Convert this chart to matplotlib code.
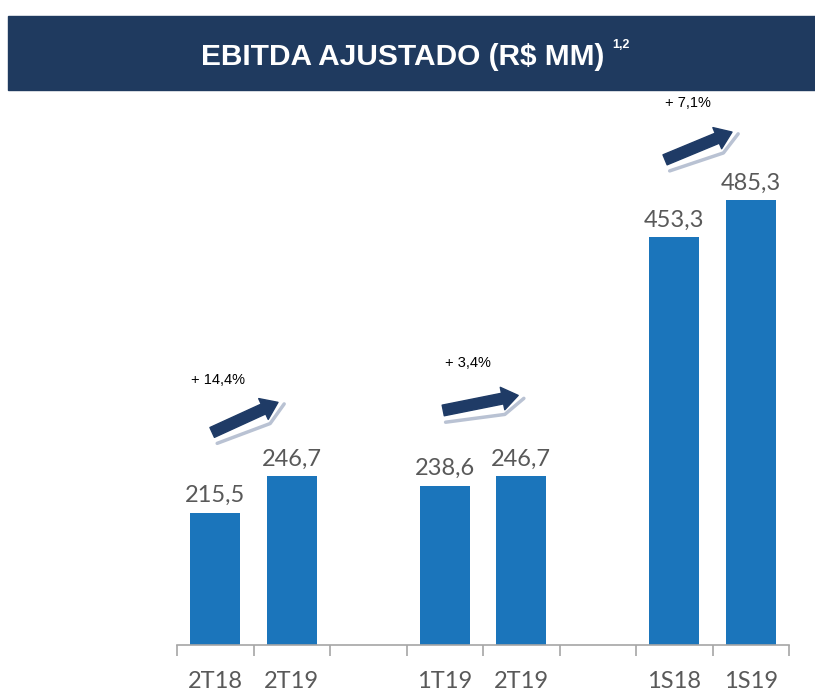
import matplotlib
matplotlib.use("Agg")
import matplotlib.pyplot as plt
from matplotlib.patches import Rectangle
import numpy as np

# ---------------------------------------------------------------------------
# Data
# ---------------------------------------------------------------------------
CATEGORIES = ["2T18", "2T19", "", "1T19", "2T19", "", "1S18", "1S19"]
VALUES     = [215.5, 246.7, None, 238.6, 246.7, None, 453.3, 485.3]
VALUE_LBLS = ["215,5", "246,7", "", "238,6", "246,7", "", "453,3", "485,3"]

# comparison pairs (index of first bar, index of second bar) and growth labels
PAIRS  = [(0, 1), (3, 4), (6, 7)]
GROWTH = ["+ 14,4%", "+ 3,4%", "+ 7,1%"]

TITLE = "EBITDA AJUSTADO (R$ MM)"
SUPER = "1,2"

# ---------------------------------------------------------------------------
# Style / layout
# ---------------------------------------------------------------------------
BAR_COLOR    = "#1B75BB"
BANNER_COLOR = "#1F3A5F"
ARROW_COLOR  = "#1F3B66"
SHADOW_COLOR = "#B9C2D3"
LABEL_COLOR  = "#595959"
AXIS_COLOR   = "#A6A6A6"

# arrow placement relative to each pair:
# (tail dx, tail dy, tip dx, tip dy, label dx, label dy) — dx in slots, dy above taller bar
ARROW_LAYOUT = [
    (-0.04, 38, -0.18, 64, 0.04, 83),
    (-0.02, 57, -0.04, 70, 0.30, 98),
    (-0.12, 35, -0.245, 59, 0.18, 84),
]

W, H = 815, 695
fig = plt.figure(figsize=(W / 100, H / 100), dpi=100)

# title banner
fig.patches.append(Rectangle((8 / W, 1 - 90 / H), (W - 8) / W, 74 / H,
                             transform=fig.transFigure, color=BANNER_COLOR,
                             zorder=0))
fig.text(403 / W, 1 - 57 / H, TITLE, color="white", fontsize=21.5,
         fontweight="bold", family="Liberation Sans", ha="center", va="center")
fig.text(612 / W, 1 - 45 / H, SUPER, color="white", fontsize=9,
         fontweight="bold", family="Liberation Sans", ha="left", va="center")

ax = fig.add_axes([177 / W, 1 - 645 / H, 612 / W, 545 / H])
x = np.arange(len(CATEGORIES))
heights = [v if v is not None else 0 for v in VALUES]
ax.bar(x, heights, width=0.66, color=BAR_COLOR, zorder=2)

for xi, v, lbl in zip(x, VALUES, VALUE_LBLS):
    if v is None:
        continue
    ax.text(xi, v + 6, lbl, ha="center", va="bottom", fontsize=17,
            color=LABEL_COLOR, family="Lato")

ax.set_xlim(-0.5, len(CATEGORIES) - 0.5)
ax.set_ylim(101, 572)

for s in ["top", "right", "left"]:
    ax.spines[s].set_visible(False)
ax.spines["bottom"].set_color(AXIS_COLOR)
ax.spines["bottom"].set_linewidth(1.2)
ax.set_yticks([])
ax.set_xticks(x)
ax.set_xticklabels(CATEGORIES, fontsize=17, color=LABEL_COLOR, family="Lato")
ax.tick_params(axis="x", which="major", length=0, pad=19)
ax.set_xticks(np.arange(-0.5, len(CATEGORIES)), minor=True)
ax.tick_params(axis="x", which="minor", length=8, width=1.2,
               color=AXIS_COLOR, direction="out")

# growth arrows with a light "3D" edge underneath
to_px = ax.transData
to_data = ax.transData.inverted()
for (i, j), txt, lay in zip(PAIRS, GROWTH, ARROW_LAYOUT):
    tdx, tdy, hdx, hdy, ldx, ldy = lay
    top = max(VALUES[i], VALUES[j])
    tail = np.array(to_px.transform((i + tdx, top + tdy)))
    tip = np.array(to_px.transform((j + hdx, top + hdy)))
    vec = tip - tail
    L = np.hypot(*vec)
    d = vec / L
    n = np.array([d[1], -d[0]])  # points down-right on screen (pixel y up)
    shadow_px = [tail + 12 * n, tail + 0.78 * L * d + 16 * n, tip + 5 * d + 4 * n]
    shadow = to_data.transform(shadow_px)
    ax.plot(shadow[:, 0], shadow[:, 1], color=SHADOW_COLOR, lw=2.5,
            solid_capstyle="round", solid_joinstyle="round", zorder=3)
    ax.annotate("", xy=to_data.transform(tip), xytext=to_data.transform(tail),
                arrowprops=dict(arrowstyle="simple,tail_width=0.78,"
                                           "head_width=1.65,head_length=1.15",
                                color=ARROW_COLOR, mutation_scale=10,
                                shrinkA=0, shrinkB=0),
                zorder=4)
    ax.text(i + ldx, top + ldy, txt, ha="center", va="center", fontsize=10.5,
            color="#000000", family="Liberation Sans")

fig.savefig("out.png", dpi=100)
